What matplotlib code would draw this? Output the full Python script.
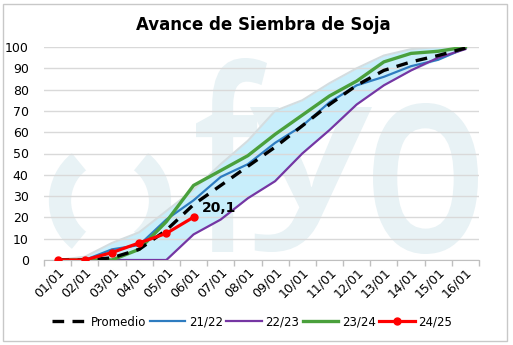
import matplotlib.pyplot as plt
from matplotlib.textpath import TextPath
from matplotlib.font_manager import FontProperties
from matplotlib.patches import PathPatch, Arc, Rectangle
from matplotlib.transforms import Affine2D

W, H = 513, 345

# Datos (% sembrado)
fechas = ['01/01', '02/01', '03/01', '04/01', '05/01', '06/01', '07/01', '08/01',
          '09/01', '10/01', '11/01', '12/01', '13/01', '14/01', '15/01', '16/01']
promedio = [0, 0, 1, 5, 14, 26, 35, 44, 53, 63, 73, 82, 89, 93, 96, 99.5]
c2122 = [0, 0, 5, 7, 19, 28, 39, 45, 55, 63, 74, 82, 86, 91, 94, 99.5]
c2223 = [0, 0, 0, 0, 0, 12, 19, 29, 37, 50, 61, 73, 82, 89, 95, 99]
c2324 = [0, 0, 0, 5, 18, 35, 42, 49, 59, 68, 77, 84, 93, 97, 98, 100]
c2425 = [0, 0, 3.5, 8, 12.5, 20.1]
rango_max = [0, 1.5, 8, 13, 23, 33, 45, 56, 70, 75, 83, 90, 96, 99, 100, 100]
rango_min = [0, 0, 0, 0, 0, 12, 19, 29, 37, 50, 61, 73, 82, 89, 94, 99]

fig = plt.figure(figsize=(W / 100, H / 100), dpi=100)
fig.patch.set_facecolor('white')

# marco exterior
fig.add_artist(Rectangle((3 / W, 4 / H), 504 / W, 337 / H, transform=fig.transFigure,
                         fill=False, edgecolor='#c8c8c8', lw=1, zorder=-3))

# marca de agua "( ) fyo"
wm = '#e8f2f5'


def glyph(ch, x0, y0, x1, y1):
    p = TextPath((0, 0), ch, size=100, prop=FontProperties(family='Open Sans', weight='semibold'))
    e = p.get_extents()
    tr = (Affine2D().translate(-e.x0, -e.y0)
          .scale((x1 - x0) / e.width, (y1 - y0) / e.height)
          .translate(x0, H - y1).scale(1 / W, 1 / H))
    fig.add_artist(PathPatch(tr.transform_path(p), transform=fig.transFigure,
                             facecolor=wm, edgecolor='none', zorder=-2))


glyph('f', 196, 58, 267, 252)
glyph('y', 250, 107, 372, 252)
glyph('o', 373, 103, 478, 254)
fig.add_artist(Arc((110 / W, 1 - 201 / H), 100 / W, 100 / H, theta1=118, theta2=242,
                   transform=fig.transFigure, color=wm, lw=16, zorder=-2))
fig.add_artist(Arc((110 / W, 1 - 201 / H), 100 / W, 100 / H, theta1=-62, theta2=62,
                   transform=fig.transFigure, color=wm, lw=16, zorder=-2))

ax = fig.add_axes([44 / W, 1 - 260 / H, 435 / W, 213 / H])
ax.set_facecolor('none')
x = list(range(len(fechas)))

ax.fill_between(x, rango_min, rango_max, color='#c8eefb', lw=0, zorder=1)
ax.plot(x, rango_max, color='#d4dde0', lw=1.5, zorder=1)

ax.plot(x, c2122, color='#2e7cc0', lw=1.6, label='21/22', zorder=3)
ax.plot(x, c2223, color='#7536a3', lw=1.6, label='22/23', zorder=3)
ax.plot(x, c2324, color='#4aa03c', lw=2.4, label='23/24', zorder=3)
ax.plot(x, promedio, color='black', lw=2.4, ls=(0, (3.5, 2.5)), label='Promedio', zorder=4)
ax.plot(x[:len(c2425)], c2425, color='#ff0000', lw=2.3, marker='o', ms=5, label='24/25', zorder=5)

ax.annotate('20,1', (len(c2425) - 1, c2425[-1]), xytext=(6, 4), textcoords='offset points',
            fontsize=10, fontweight='bold', color='black', zorder=6)

ax.set_xlim(-0.5, len(fechas) - 0.5)
ax.set_ylim(0, 100)
ax.set_yticks(range(0, 101, 10))
ax.tick_params(axis='y', length=0, labelsize=9, pad=11)
ax.set_xticks(x)
ax.set_xticklabels(fechas, rotation=45, ha='right', rotation_mode='anchor', fontsize=9)
ax.tick_params(axis='x', length=0, pad=4)
ax.set_xticks([i - 0.5 for i in range(len(fechas) + 1)], minor=True)
ax.tick_params(axis='x', which='minor', length=4, color='#bfbfbf', width=1)
ax.grid(axis='y', color='#d9d9d9', lw=1, zorder=0)
for s in ['top', 'right', 'left']:
    ax.spines[s].set_visible(False)
ax.spines['bottom'].set_color('#bfbfbf')

fig.text(263 / W, 1 - 25 / H, 'Avance de Siembra de Soja', ha='center', va='center',
         fontsize=12, fontweight='bold')

h, l = ax.get_legend_handles_labels()
orden = [3, 0, 1, 2, 4]
fig.legend([h[i] for i in orden], [l[i] for i in orden], loc='center',
           bbox_to_anchor=(252 / W, 1 - 322 / H), ncol=5, frameon=False, fontsize=8.5,
           handlelength=3, handletextpad=0.3, columnspacing=0.3)

fig.savefig('out.png', dpi=100)
